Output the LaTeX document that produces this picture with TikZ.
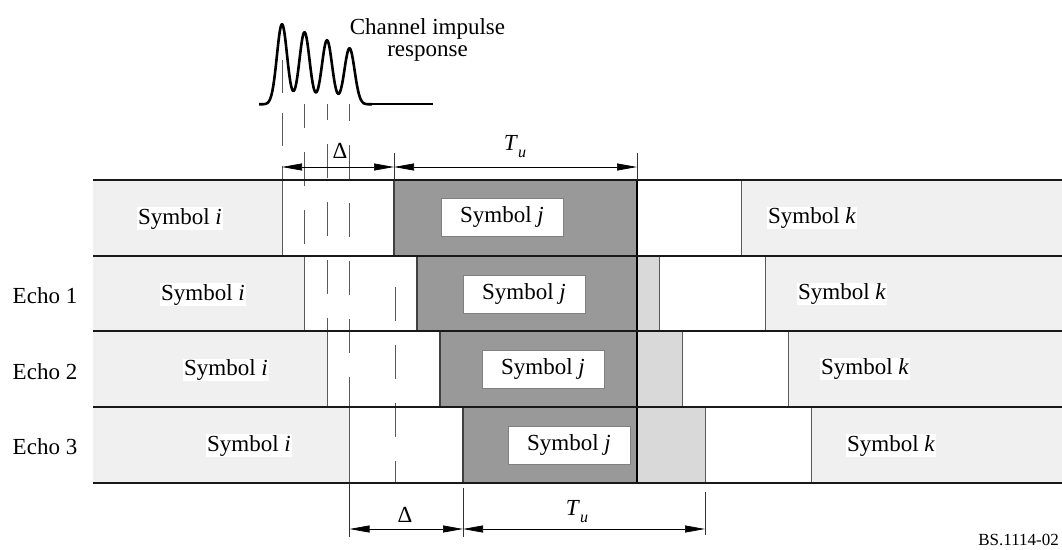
\documentclass[tikz,border=0pt]{standalone}
\usepackage{fontspec}
\setmainfont{Liberation Serif}
\usetikzlibrary{arrows.meta}
\definecolor{lightg}{HTML}{F0F0F0}
\definecolor{midg}{HTML}{D9D9D9}
\definecolor{darkg}{HTML}{999999}
\definecolor{lineg}{HTML}{5A5A5A}
\begin{document}
\begin{tikzpicture}[x=1pt,y=-1pt,
  lbl/.style={font=\fontsize{23}{22}\selectfont, inner sep=1pt},
  symtxt/.style={lbl, fill=white, anchor=base},
  jbox/.style={lbl, fill=white, draw=gray, line width=0.8pt, minimum width=122pt, minimum height=38pt, inner sep=0pt},
  rowline/.style={line width=2.4pt, black!90},
  thinln/.style={line width=0.9pt, lineg},
  darkln/.style={line width=1.2pt, black!75},
  dashln/.style={line width=0.9pt, lineg, dash pattern=on 34pt off 24pt},
  extln/.style={line width=0.8pt, black!80},
  dimarrow/.style={line width=0.7pt, {Triangle[length=20pt,width=7pt]}-{Triangle[length=20pt,width=7pt]}},
]
\useasboundingbox (0,0) rectangle (1062,549);

% rows: top/bottom/end of i/start of dark j/end of j/start of k
\foreach \tp/\bt/\ie/\jd/\je/\ks in {180/256/282/394/637/741, 256/331/304.5/417/659.5/765, 331/407/327/440/682/788, 407/483/349.5/463/705/811}{
  \fill[lightg] (93,\tp) rectangle (\ie,\bt);
  \fill[darkg] (\jd,\tp) rectangle (637,\bt);
  \fill[midg] (637,\tp) rectangle (\je,\bt);
  \fill[lightg] (\ks,\tp) rectangle (1062,\bt);
  \draw[thinln] (\ie,\tp) -- (\ie,\bt);
  \draw[thinln] (\je,\tp) -- (\je,\bt);
  \draw[thinln] (\ks,\tp) -- (\ks,\bt);
  \draw[darkln] (\jd,\tp) -- (\jd,\bt);
  \draw[line width=1.4pt, black] (637,\tp) -- (637,\bt);
}

% dashed echo lines
\draw[dashln, dash pattern=on 33pt off 20pt] (282,60) -- (282,180);
\draw[dashln, dash phase=10pt] (304.5,104) -- (304.5,256);
\draw[dashln, dash phase=18pt] (327,104) -- (327,331);
\draw[dashln, dash phase=17pt] (349.5,104) -- (349.5,407);
\draw[dashln] (395,287) -- (395,483);

% horizontal row lines
\foreach \yy in {180,256,331,407,483}{
  \draw[rowline] (93,\yy) -- (1062,\yy);
}

% labels in rows
\node[symtxt] (si0) at (180,224) {Symbol \textit{i}};
\node[symtxt] (si1) at (203,300) {Symbol \textit{i}};
\node[symtxt] (si2) at (226,375.5) {Symbol \textit{i}};
\node[symtxt] (si3) at (249,451) {Symbol \textit{i}};
\node[jbox] (sj0) at (502,217) {Symbol \textit{j}};
\node[jbox] (sj1) at (524,294) {Symbol \textit{j}};
\node[jbox] (sj2) at (543,369) {Symbol \textit{j}};
\node[jbox] (sj3) at (569,445) {Symbol \textit{j}};
\node[symtxt] (sk0) at (812,223.5) {Symbol \textit{k}};
\node[symtxt] (sk1) at (842,299.5) {Symbol \textit{k}};
\node[symtxt] (sk2) at (865,374.5) {Symbol \textit{k}};
\node[symtxt] (sk3) at (891,451) {Symbol \textit{k}};
\node[lbl, anchor=base] (e1) at (45,303) {Echo 1};
\node[lbl, anchor=base] (e2) at (45,379) {Echo 2};
\node[lbl, anchor=base] (e3) at (45,454.5) {Echo 3};

% channel impulse response
\draw[line width=2.6pt, black, line join=round]
  plot[domain=259:372, samples=227] (\x, {104.3
   - 80*exp(max(-15,-(\x-282)*(\x-282)/52))
   - 72*exp(max(-15,-(\x-304.5)*(\x-304.5)/52))
   - 64*exp(max(-15,-(\x-327)*(\x-327)/52))
   - 56*exp(max(-15,-(\x-349.5)*(\x-349.5)/52))});
\draw[line width=2.2pt, black] (372,104.3) -- (433,104.3);
\node[lbl, align=center, anchor=north, inner sep=0pt] (cir) at (427.5,18.5) {Channel impulse\\response};

% top dimension
\coordinate (ta) at (282,167);
\coordinate (tb) at (394,167);
\coordinate (tc) at (637,167);
\draw[extln] (394,153) -- (394,180);
\draw[extln] (637,153) -- (637,180);
\draw[dimarrow] (ta) -- (tb);
\draw[dimarrow] (tb) -- (tc);
\node[lbl] (dtop) at (340,151) {Δ};
\node[lbl] (tutop) at (515,147) {\textit{T}\raisebox{-7pt}{\fontsize{16}{16}\selectfont\textit{u}}};

% bottom dimension
\coordinate (ba) at (349.5,529);
\coordinate (bb) at (463,529);
\coordinate (bc) at (705,529);
\draw[extln] (349.5,483) -- (349.5,537);
\draw[extln] (463,488) -- (463,537);
\draw[extln] (705,492) -- (705,535);
\draw[dimarrow] (ba) -- (bb);
\draw[dimarrow] (bb) -- (bc);
\node[lbl] (dbot) at (405,515) {Δ};
\node[lbl] (tubot) at (577,512) {\textit{T}\raisebox{-7pt}{\fontsize{16}{16}\selectfont\textit{u}}};

\node[anchor=base east, font=\fontsize{17}{17}\selectfont, inner sep=0pt] (ref) at (1059,545) {BS.1114-02};
\end{tikzpicture}
\end{document}
